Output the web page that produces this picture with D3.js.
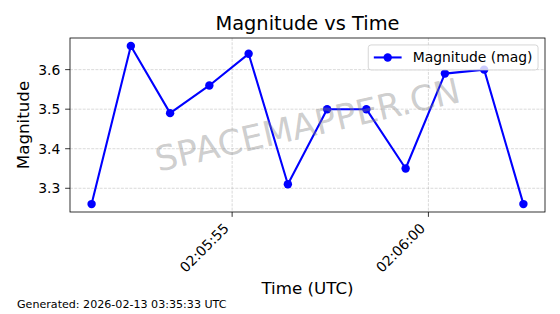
<!DOCTYPE html>
<html>
<head>
<meta charset="utf-8">
<script src="https://cdn.jsdelivr.net/npm/d3@7"></script>
<style>
  html, body { margin: 0; padding: 0; background: #fff; }
  svg { display: block; font-family: "DejaVu Sans", sans-serif; }
</style>
</head>
<body>
<svg id="chart" width="560" height="314"></svg>
<script>
// ---- data ----
const times = [
  "2026-02-13T02:05:51.420Z", "2026-02-13T02:05:52.420Z", "2026-02-13T02:05:53.420Z",
  "2026-02-13T02:05:54.420Z", "2026-02-13T02:05:55.420Z", "2026-02-13T02:05:56.420Z",
  "2026-02-13T02:05:57.420Z", "2026-02-13T02:05:58.420Z", "2026-02-13T02:05:59.420Z",
  "2026-02-13T02:06:00.420Z", "2026-02-13T02:06:01.420Z", "2026-02-13T02:06:02.420Z"
];
const magnitudes = [3.26, 3.66, 3.49, 3.56, 3.64, 3.31, 3.50, 3.50, 3.35, 3.59, 3.60, 3.26];
const xTickTimes = ["2026-02-13T02:05:55Z", "2026-02-13T02:06:00Z"];
const yTickValues = [3.3, 3.4, 3.5, 3.6];
const titleText = "Magnitude vs Time";
const xLabelText = "Time (UTC)";
const yLabelText = "Magnitude";
const legendText = "Magnitude (mag)";
const watermarkText = "SPACEMAPPER.CN";
const footerText = "Generated: 2026-02-13 03:35:33 UTC";

// ---- layout ----
const svg = d3.select("#chart");
const L = 70, R = 545, T = 38, B = 212;
const tickLen = 4.86, tickPad = 4.86;
const blue = "#0000ff";

const data = times.map((t, i) => ({ t: new Date(t), v: magnitudes[i] }));
const tExt = d3.extent(data, d => d.t.getTime());
const tPad = (tExt[1] - tExt[0]) * 0.05;
const vExt = d3.extent(data, d => d.v);
const vPad = (vExt[1] - vExt[0]) * 0.05;

const x = d3.scaleUtc().domain([new Date(tExt[0] - tPad), new Date(tExt[1] + tPad)]).range([L, R]);
const y = d3.scaleLinear().domain([vExt[0] - vPad, vExt[1] + vPad]).range([B, T]);
const xTicks = xTickTimes.map(s => new Date(s));
const fmtTime = d3.utcFormat("%H:%M:%S");

// grid
const grid = svg.append("g").attr("stroke", "#b0b0b0").attr("stroke-opacity", 0.6)
  .attr("stroke-width", 0.8).attr("stroke-dasharray", "2.96,1.28");
grid.selectAll(".gx").data(xTicks).enter().append("line")
  .attr("x1", d => x(d)).attr("x2", d => x(d)).attr("y1", T).attr("y2", B);
grid.selectAll(".gy").data(yTickValues).enter().append("line")
  .attr("x1", L).attr("x2", R).attr("y1", d => y(d)).attr("y2", d => y(d));

// line + markers
const line = d3.line().x(d => x(d.t)).y(d => y(d.v));
svg.append("path").datum(data).attr("d", line)
  .attr("fill", "none").attr("stroke", blue).attr("stroke-width", 2.08)
  .attr("stroke-linejoin", "round");
svg.append("g").selectAll("circle").data(data).enter().append("circle")
  .attr("cx", d => x(d.t)).attr("cy", d => y(d.v)).attr("r", 4.2).attr("fill", blue);

// watermark
svg.append("text").attr("transform", `translate(${(L + R) / 2},${(T + B) / 2}) rotate(-13)`)
  .attr("text-anchor", "middle").attr("dominant-baseline", "central")
  .attr("font-size", 34.7).attr("fill", "#808080").attr("fill-opacity", 0.4)
  .text(watermarkText);

// frame
svg.append("rect").attr("x", L).attr("y", T).attr("width", R - L).attr("height", B - T)
  .attr("fill", "none").attr("stroke", "#000").attr("stroke-width", 0.8);

// y axis ticks
const yt = svg.append("g");
yt.selectAll("line").data(yTickValues).enter().append("line")
  .attr("x1", L - tickLen).attr("x2", L).attr("y1", d => y(d)).attr("y2", d => y(d))
  .attr("stroke", "#000").attr("stroke-width", 0.8);
yt.selectAll("text").data(yTickValues).enter().append("text")
  .attr("x", L - tickLen - tickPad).attr("y", d => y(d))
  .attr("text-anchor", "end").attr("dominant-baseline", "central")
  .attr("font-size", 13.9).attr("fill", "#000").text(d => d3.format(".1f")(d));

// x axis ticks
const xt = svg.append("g");
xt.selectAll("line").data(xTicks).enter().append("line")
  .attr("x1", d => x(d)).attr("x2", d => x(d)).attr("y1", B).attr("y2", B + tickLen)
  .attr("stroke", "#000").attr("stroke-width", 0.8);
const asc = 10.5, desc = 3.3;
xt.selectAll("text").data(xTicks).enter().append("text")
  .attr("transform", d => `translate(${x(d) - 0.707 * desc},${B + tickLen + tickPad + 0.707 * asc}) rotate(-45)`)
  .attr("text-anchor", "end").attr("font-size", 13.9).attr("fill", "#000")
  .text(d => fmtTime(d));

// labels
svg.append("text").attr("x", (L + R) / 2).attr("y", 29.7).attr("text-anchor", "middle")
  .attr("font-size", 19.4).attr("fill", "#000").text(titleText);
svg.append("text").attr("x", (L + R) / 2).attr("y", 294).attr("text-anchor", "middle")
  .attr("font-size", 16.7).attr("fill", "#000").text(xLabelText);
svg.append("text").attr("transform", `translate(29,${(T + B) / 2}) rotate(-90)`)
  .attr("text-anchor", "middle").attr("font-size", 16.7).attr("fill", "#000").text(yLabelText);

// legend
const lg = svg.append("g");
const lgW = 169.8, lgH = 25, lgX = R - 6.95 - lgW, lgY = T + 6.95;
lg.append("rect").attr("x", lgX).attr("y", lgY).attr("width", lgW).attr("height", lgH)
  .attr("rx", 2.8).attr("fill", "#fff").attr("fill-opacity", 0.8)
  .attr("stroke", "#cccccc").attr("stroke-width", 0.8);
const hx0 = lgX + 5.56, hx1 = hx0 + 27.8, hy = lgY + lgH / 2;
lg.append("line").attr("x1", hx0).attr("x2", hx1).attr("y1", hy).attr("y2", hy)
  .attr("stroke", blue).attr("stroke-width", 2.08);
lg.append("circle").attr("cx", (hx0 + hx1) / 2).attr("cy", hy).attr("r", 4.2).attr("fill", blue);
lg.append("text").attr("x", hx1 + 11.1).attr("y", hy + 4.9).attr("font-size", 13.9)
  .attr("fill", "#000").text(legendText);

// footer
svg.append("text").attr("x", 17).attr("y", 308).attr("font-size", 11.1).attr("fill", "#000")
  .text(footerText);
</script>
</body>
</html>
